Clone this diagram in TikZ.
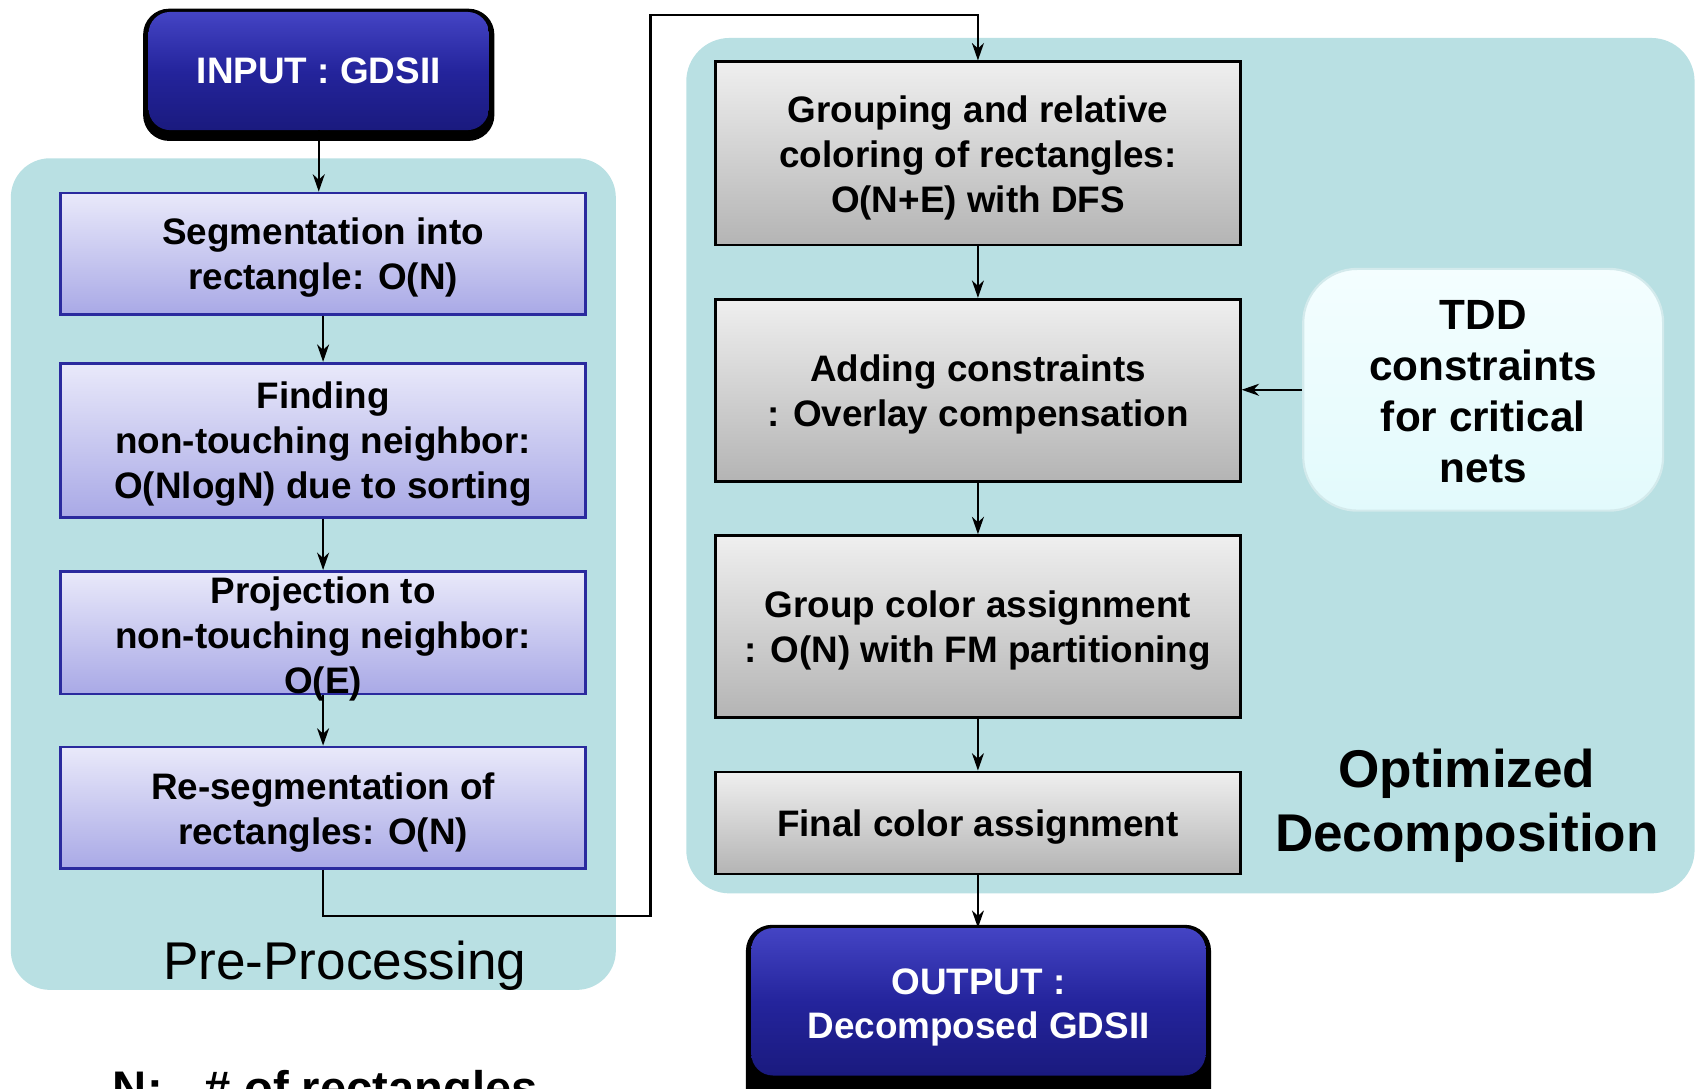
\documentclass[tikz,border=0pt]{standalone}
\usepackage{fontspec}
\setmainfont{Liberation Sans}
\usetikzlibrary{arrows.meta}
\definecolor{panel}{HTML}{B9E0E3}
\definecolor{lavTop}{HTML}{E9E9FA}
\definecolor{lavBot}{HTML}{A9A9E6}
\definecolor{lavEdge}{HTML}{2A2A9E}
\definecolor{grayTop}{HTML}{EFEFEF}
\definecolor{grayBot}{HTML}{B4B4B4}
\definecolor{tddTop}{HTML}{F4FEFF}
\definecolor{tddBot}{HTML}{E2FAFC}
\definecolor{tddEdge}{HTML}{D3EAEC}
\definecolor{blueTop}{HTML}{4444C4}
\definecolor{blueMid}{HTML}{24249C}
\definecolor{blueBot}{HTML}{1A1A7E}
\begin{document}
\begin{tikzpicture}[x=1pt,y=-1pt,
  lbox/.style={draw=lavEdge, line width=2.5pt, top color=lavTop, bottom color=lavBot,
    minimum width=484pt, inner sep=0pt},
  gbox/.style={draw=black, line width=2.5pt, top color=grayTop, bottom color=grayBot,
    minimum width=484pt, inner sep=0pt},
  bluebox/.style={rounded corners=20pt, top color=blueTop, bottom color=blueBot,
    middle color=blueMid, text=white, inner sep=0pt, align=center,
    font=\fontsize{34}{41}\selectfont\bfseries},
  btxt/.style={font=\fontsize{34}{41.5}\selectfont\bfseries, align=center, inner sep=0pt,
    yshift=-4pt},
  arr/.style={line width=2.3pt, -{Stealth[length=16pt,width=11pt,inset=5pt]}},
  wire/.style={line width=2.3pt}]
\path[use as bounding box] (0,0) rectangle (1568,1004);
\clip (0,0) rectangle (1568,1004);

% background panels
\fill[panel, rounded corners=36pt] (10,146) rectangle (568,913);
\fill[panel, rounded corners=40pt] (633,35) rectangle (1563,824);

% input / output terminals with dark drop shadow
\fill[black, rounded corners=24pt] (132,8) rectangle (456,130);
\node[bluebox, minimum width=314pt, minimum height=109pt] (inp) at (294,65.5) {INPUT : GDSII};
\fill[black, rounded corners=24pt] (688,853) rectangle (1117,1040);
\node[bluebox, minimum width=419pt, minimum height=136pt] (out) at (902.5,924) {};
\node[font=\fontsize{34}{41}\selectfont\bfseries, text=white, align=center, inner sep=0pt]
  at (902.5,929) {OUTPUT :\\Decomposed GDSII};

% pre-processing steps
\node[lbox, minimum height=112pt] (seg) at (298,234) {};
\node[btxt] at (seg) {Segmentation into\\rectangle: O(N)};
\node[lbox, minimum height=142pt] (find) at (298,406) {};
\node[btxt] at (find) {Finding\\non-touching neighbor:\\O(NlogN) due to sorting};
\node[lbox, minimum height=113pt] (proj) at (298,583.5) {};
\node[btxt] at (298,585) {Projection to\\non-touching neighbor:\\O(E)};
\node[lbox, minimum height=112pt] (reseg) at (298,745) {};
\node[btxt] at (reseg) {Re-segmentation of\\rectangles: O(N)};
\node[font=\fontsize{49}{59}\selectfont, inner sep=0pt] (pre) at (318,891) {Pre-Processing};

% decomposition steps
\node[gbox, minimum height=169pt] (grp) at (902,141.5) {};
\node[btxt] at (grp) {Grouping and relative\\coloring of rectangles:\\O(N+E) with DFS};
\node[gbox, minimum height=168pt] (add) at (902,360) {};
\node[btxt] at (add) {Adding constraints\\: Overlay compensation};
\node[gbox, minimum height=168pt] (gca) at (902,578) {};
\node[btxt] at (gca) {Group color assignment\\: O(N) with FM partitioning};
\node[gbox, minimum height=94pt] (fin) at (902,759) {};
\node[btxt] at (fin) {Final color assignment};

\node[draw=tddEdge, line width=2pt, rounded corners=50pt, top color=tddTop, bottom color=tddBot,
  minimum width=332pt, minimum height=223pt] (tdd) at (1368,359.5) {};
\node[font=\fontsize{39}{47}\selectfont\bfseries, align=center, inner sep=0pt] at (1368,361.5)
  {TDD\\constraints\\for critical\\nets};
\node[font=\fontsize{49}{59}\selectfont\bfseries, align=center, inner sep=0pt] (opt) at (1353,743.5)
  {Optimized\\Decomposition};

\node[font=\fontsize{43.5}{52}\selectfont\bfseries, anchor=base west, inner sep=0pt] (leg) at (104,1018.5)
  {N:\hspace*{39pt}\# of rectangles};

% connectors
\draw[arr] (inp.south) -- (inp.south |- seg.north);
\draw[arr] (seg.south) -- (find.north);
\draw[arr] (find.south) -- (proj.north);
\draw[arr] (proj.south) -- (reseg.north);
\coordinate (k1) at (600,845);
\coordinate (k2) at (600,14);
\draw[arr, line join=miter] (reseg.south) |- (k1) -- (k2) -| (grp.north);
\draw[arr] (grp.south) -- (add.north);
\draw[arr] (add.south) -- (gca.north);
\draw[arr] (gca.south) -- (fin.north);
\draw[arr] (fin.south) -- (fin.south |- out.north);
\draw[arr] (tdd.west) -- (tdd.west -| add.east);
\end{tikzpicture}
\end{document}
